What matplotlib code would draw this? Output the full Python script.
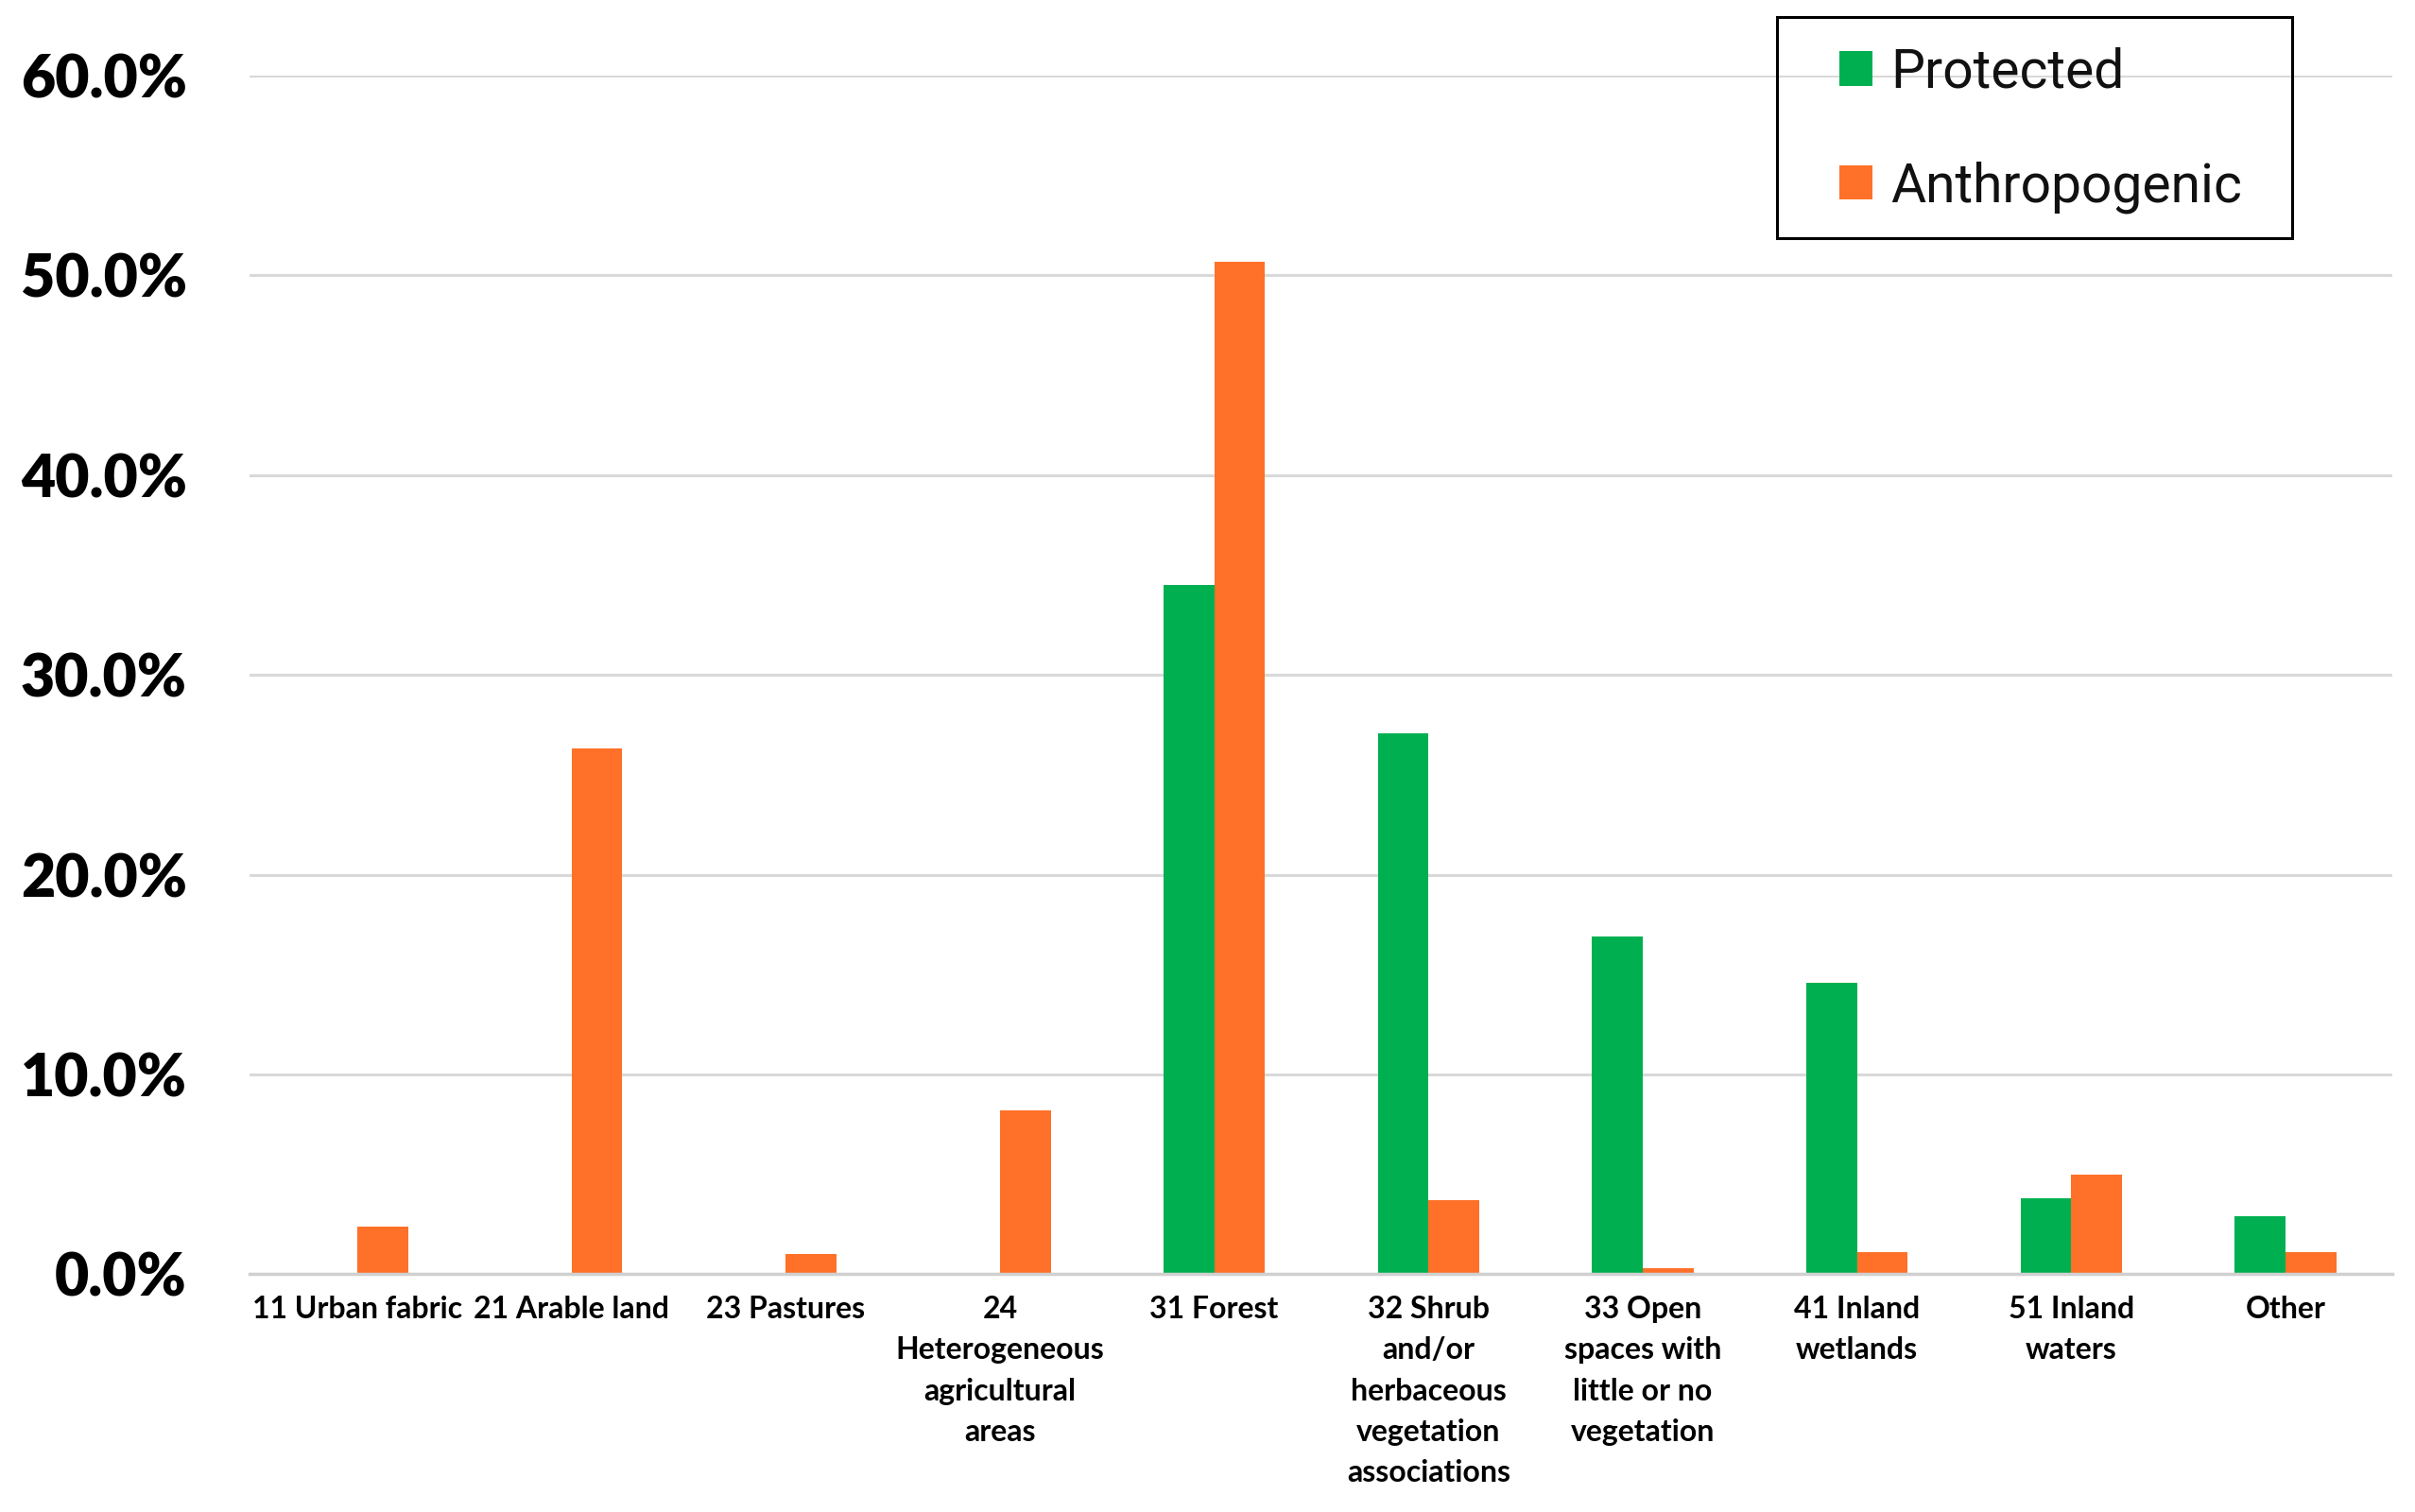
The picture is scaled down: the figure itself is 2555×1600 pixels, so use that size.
import matplotlib
matplotlib.use("Agg")
import matplotlib.pyplot as plt
from matplotlib.patches import Rectangle
import numpy as np
from matplotlib.ticker import PercentFormatter

# Land cover categories and share of each class (fraction)
categories = [
    "11 Urban fabric", "21 Arable land", "23 Pastures",
    "24\nHeterogeneous\nagricultural\nareas", "31 Forest",
    "32 Shrub\nand/or\nherbaceous\nvegetation\nassociations",
    "33 Open\nspaces with\nlittle or no\nvegetation",
    "41 Inland\nwetlands", "51 Inland\nwaters", "Other",
]
protected = [0.0, 0.0, 0.0, 0.0, 0.345, 0.271, 0.169, 0.146, 0.038, 0.029]
anthropogenic = [0.024, 0.263, 0.010, 0.082, 0.507, 0.037, 0.003, 0.011, 0.050, 0.011]

GREEN = "#00B050"
ORANGE = "#FF7128"
narrow = ["Lato", "DejaVu Sans"]

fig = plt.figure(figsize=(25.55, 16), dpi=100)
ax = fig.add_axes([0.1035, 0.1572, 0.8873, 0.7928])

x = np.arange(len(categories))
w = 0.237
ax.bar(x - w / 2, protected, w, color=GREEN, label="Protected", zorder=3)
ax.bar(x + w / 2, anthropogenic, w, color=ORANGE, label="Anthropogenic", zorder=3)

ax.set_xlim(-0.5, len(categories) - 0.5)
ax.set_ylim(0, 0.6)
ax.set_yticks(np.arange(0, 0.61, 0.1))
ax.yaxis.set_major_formatter(PercentFormatter(1.0, decimals=1))
ax.grid(axis="y", color="#D9D9D9", linewidth=2.2, zorder=0)

for s in ["top", "right", "left"]:
    ax.spines[s].set_visible(False)
ax.spines["bottom"].set_color("#D0D0D0")
ax.spines["bottom"].set_linewidth(2.5)
ax.spines["bottom"].set_zorder(4)

ax.set_xticks(x)
ax.set_xticklabels(categories, fontsize=23, fontweight="bold", family=narrow,
                   linespacing=1.6, va="top")
ax.tick_params(axis="x", length=0, pad=16)
ax.tick_params(axis="y", length=0, pad=48)
for lab in ax.get_yticklabels():
    lab.set_fontsize(45)
    lab.set_fontweight("heavy")
    lab.set_family(narrow)

# legend without its own frame; box drawn separately to match the padding
leg = fig.legend(loc="upper left", bbox_to_anchor=(0.7618, 0.969), fontsize=41,
                 frameon=False, handlelength=0.6, handleheight=0.6,
                 handletextpad=0.35, labelspacing=1.15, borderpad=0,
                 borderaxespad=0)
for t in leg.get_texts():
    t.set_family(["Roboto", "DejaVu Sans"])
    t.set_color("#111111")
fig.patches.append(Rectangle((0.7357, 0.8423), 0.2134, 0.1465,
                             transform=fig.transFigure, fill=False,
                             edgecolor="black", linewidth=2.2, zorder=5))

fig.savefig("out.png", dpi=100)
